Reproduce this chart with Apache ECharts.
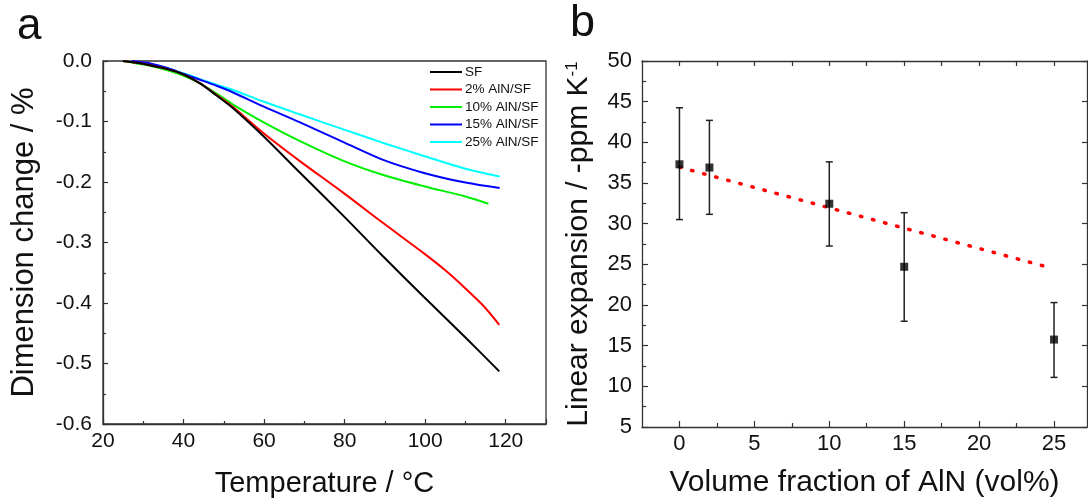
<!DOCTYPE html>
<html><head><meta charset="utf-8">
<script src="https://cdn.jsdelivr.net/npm/echarts@6/dist/echarts.min.js"></script>
<style>html,body{margin:0;padding:0;background:#fff}#c{width:1088px;height:504px}</style>
</head><body><div id="c"></div>
<script>
// ---- Panel a: dimension change vs temperature ----
const seriesNames = ['SF', '2% AlN/SF', '10% AlN/SF', '15% AlN/SF', '25% AlN/SF'];
const seriesColors = ['#000000', '#ff0000', '#00ee00', '#0000ff', '#00ffff'];
const tSF = [24.9, 28.4, 31.7, 35.8, 39.9, 44.1, 48.2, 52.3, 59.8, 68.8, 79.7, 89.4, 99.7, 110.0, 118.4];
const vSF = [0, -0.003, -0.007, -0.013, -0.022, -0.037, -0.057, -0.078, -0.124, -0.184, -0.256, -0.322, -0.390, -0.457, -0.513];
const t2  = [24.9, 28.4, 31.7, 35.8, 39.9, 44.1, 48.2, 52.3, 59.8, 68.8, 79.7, 89.4, 99.7, 105.0, 110.0, 114.5, 118.4];
const v2  = [0, -0.003, -0.007, -0.013, -0.022, -0.037, -0.056, -0.076, -0.119, -0.165, -0.218, -0.267, -0.318, -0.346, -0.376, -0.405, -0.436];
const t10 = [24.9, 28.4, 31.7, 35.8, 39.9, 44.1, 48.2, 52.3, 59.8, 68.8, 79.7, 89.4, 99.7, 110.0, 115.7];
const v10 = [0, -0.004, -0.008, -0.015, -0.024, -0.037, -0.054, -0.072, -0.101, -0.132, -0.165, -0.188, -0.207, -0.224, -0.236];
const t15 = [27.2, 28.4, 31.7, 35.8, 39.9, 44.1, 48.2, 52.3, 59.8, 68.8, 79.7, 89.4, 99.7, 110.0, 118.5];
const v15 = [0, -0.001, -0.004, -0.011, -0.021, -0.031, -0.041, -0.052, -0.075, -0.101, -0.134, -0.163, -0.185, -0.201, -0.210];
const t25 = [24.9, 28.4, 31.7, 35.8, 39.9, 44.1, 48.2, 52.3, 59.8, 68.8, 79.7, 89.4, 99.7, 110.0, 118.5];
const v25 = [0, -0.002, -0.006, -0.012, -0.020, -0.030, -0.039, -0.048, -0.067, -0.088, -0.113, -0.135, -0.157, -0.178, -0.191];

// ---- Panel b: linear expansion vs AlN volume fraction ----
const volFrac  = [0, 2, 10, 15, 25];
const cte      = [37.3, 36.9, 32.45, 24.7, 15.75];
const cteLow   = [30.5, 31.15, 27.25, 18.0, 11.1];
const cteHigh  = [44.25, 42.7, 37.6, 31.35, 20.3];
const fitX     = [0, 24.6];
const fitY     = [36.95, 24.65];
const bMajorTicks = [0, 5, 10, 15, 20, 25];
const bMinorTicks = [2.5, 7.5, 12.5, 17.5, 22.5];
const bTopTicks   = [0, 2.5, 5, 7.5, 10, 12.5, 15, 17.5, 20, 22.5, 25];

const FONT = 'Liberation Sans, Arial, sans-serif';
const AX = '#333';
const zip = (a, b) => a.map((v, i) => [v, b[i]]);
const curveT = [tSF, t2, t10, t15, t25];
const curveV = [vSF, v2, v10, v15, v25];

const chart = echarts.init(document.getElementById('c'), null, {renderer: 'canvas'});

const lineSeries = seriesNames.map((n, i) => ({
  name: n, type: 'line', xAxisIndex: 0, yAxisIndex: 0,
  data: zip(curveT[i], curveV[i]), showSymbol: false, smooth: 0.3,
  lineStyle: {color: seriesColors[i], width: 2}, itemStyle: {color: seriesColors[i]},
  z: 5 - i
}));

const option = {
  animation: false,
  backgroundColor: '#fff',
  textStyle: {fontFamily: FONT},
  grid: [
    {left: 103, top: 61, width: 443, height: 363, show: true, borderColor: AX, borderWidth: 1.3, backgroundColor: 'transparent'},
    {left: 642, top: 61, width: 445, height: 366}
  ],
  legend: {
    data: seriesNames, orient: 'vertical', left: 430, top: 65, padding: 0,
    icon: 'rect', itemWidth: 32, itemHeight: 2, itemGap: 3.5,
    textStyle: {fontSize: 13.5, color: '#111', fontFamily: FONT, padding: [0, 0, 0, -2]}
  },
  xAxis: [
    {
      gridIndex: 0, type: 'value', min: 20, max: 130, interval: 20,
      axisLine: {onZero: false, lineStyle: {color: AX, width: 1.3}},
      axisTick: {inside: true, length: 5, lineStyle: {color: AX, width: 1.2}},
      minorTick: {show: true, splitNumber: 2, length: 3, lineStyle: {color: AX, width: 1.2}},
      splitLine: {show: false}, minorSplitLine: {show: false},
      axisLabel: {fontSize: 21, color: '#111', margin: 7, fontFamily: FONT, formatter: v => (v === 130 ? '' : String(v))},
      name: 'Temperature / °C', nameLocation: 'middle', nameGap: 45,
      nameTextStyle: {fontSize: 29, color: '#111', fontFamily: FONT}
    },
    {
      gridIndex: 1, type: 'value', min: -2.5, max: 27.2,
      axisLine: {onZero: false, lineStyle: {color: AX, width: 1.3}},
      axisTick: {inside: true, length: 6, customValues: bMajorTicks, lineStyle: {color: AX, width: 1.2}},
      splitLine: {show: false},
      axisLabel: {fontSize: 22, color: '#111', margin: 6, fontFamily: FONT, customValues: bMajorTicks},
      name: 'Volume fraction of AlN (vol%)', nameLocation: 'middle', nameGap: 41,
      nameTextStyle: {fontSize: 30, color: '#111', fontFamily: FONT}
    },
    {
      gridIndex: 1, type: 'value', min: -2.5, max: 27.2, position: 'bottom',
      axisLine: {show: false, onZero: false},
      axisTick: {inside: true, length: 4, customValues: bMinorTicks, lineStyle: {color: AX, width: 1.2}},
      axisLabel: {show: false}, splitLine: {show: false}
    },
    {
      gridIndex: 1, type: 'value', min: -2.5, max: 27.2, position: 'top',
      axisLine: {onZero: false, lineStyle: {color: AX, width: 1.3}},
      axisTick: {inside: true, length: 5, customValues: bTopTicks, lineStyle: {color: AX, width: 1.2}},
      axisLabel: {show: false}, splitLine: {show: false}
    }
  ],
  yAxis: [
    {
      gridIndex: 0, type: 'value', min: -0.6, max: 0, interval: 0.1,
      axisLine: {show: true, onZero: false, lineStyle: {color: AX, width: 1.3}},
      axisTick: {show: true, inside: true, length: 5, lineStyle: {color: AX, width: 1.2}},
      minorTick: {show: true, splitNumber: 2, length: 3, lineStyle: {color: AX, width: 1.2}},
      splitLine: {show: false}, minorSplitLine: {show: false},
      axisLabel: {fontSize: 21, color: '#111', margin: 11, fontFamily: FONT, formatter: v => v.toFixed(1)},
      name: 'Dimension change / %', nameLocation: 'middle', nameGap: 63,
      nameTextStyle: {fontSize: 31, color: '#111', fontFamily: FONT}
    },
    {
      gridIndex: 1, type: 'value', min: 5, max: 50, interval: 5, position: 'left',
      axisLine: {show: true, onZero: false, lineStyle: {color: AX, width: 1.3}},
      axisTick: {show: true, inside: true, length: 6, lineStyle: {color: AX, width: 1.2}},
      minorTick: {show: true, splitNumber: 2, length: 4, lineStyle: {color: AX, width: 1.2}},
      splitLine: {show: false}, minorSplitLine: {show: false},
      axisLabel: {fontSize: 22, color: '#111', margin: 10, fontFamily: FONT},
      name: 'Linear expansion / -ppm K{sup|-1}', nameLocation: 'middle', nameGap: 48,
      nameTextStyle: {fontSize: 30, color: '#111', fontFamily: FONT,
        rich: {sup: {fontSize: 17, color: '#111', fontFamily: FONT, verticalAlign: 'top', padding: [0, 0, 12, 0]}}}
    },
    {
      gridIndex: 1, type: 'value', min: 5, max: 50, interval: 5, position: 'right',
      axisLine: {show: true, onZero: false, lineStyle: {color: AX, width: 1.3}},
      axisTick: {show: true, inside: true, length: 5, lineStyle: {color: AX, width: 1.2}},
      axisLabel: {show: false}, splitLine: {show: false}
    }
  ],
  graphic: [
    {type: 'text', left: 17, top: 5, style: {text: 'a', fontSize: 44, fontFamily: FONT, fill: '#111'}},
    {type: 'text', left: 570, top: 1, style: {text: 'b', fontSize: 45, fontFamily: FONT, fill: '#111'}}
  ],
  series: [
    ...lineSeries,
    {
      name: 'fit', type: 'line', xAxisIndex: 1, yAxisIndex: 1, data: zip(fitX, fitY),
      showSymbol: false, lineStyle: {color: '#ff0000', width: 3.5, type: [1.5, 11], cap: 'round'}, z: 2
    },
    {
      name: 'err', type: 'custom', xAxisIndex: 1, yAxisIndex: 1,
      data: volFrac.map((x, i) => [x, cteLow[i], cteHigh[i]]),
      encode: {x: 0, y: [1, 2]},
      renderItem: (params, api) => {
        const x = api.value(0), lo = api.value(1), hi = api.value(2);
        const p1 = api.coord([x, hi]), p2 = api.coord([x, lo]);
        const w = 3.5;
        const st = {stroke: '#222', lineWidth: 1.5};
        return {type: 'group', children: [
          {type: 'line', shape: {x1: p1[0], y1: p1[1], x2: p2[0], y2: p2[1]}, style: st},
          {type: 'line', shape: {x1: p1[0] - w, y1: p1[1], x2: p1[0] + w, y2: p1[1]}, style: st},
          {type: 'line', shape: {x1: p2[0] - w, y1: p2[1], x2: p2[0] + w, y2: p2[1]}, style: st}
        ]};
      },
      z: 3
    },
    {
      name: 'data', type: 'scatter', xAxisIndex: 1, yAxisIndex: 1, data: zip(volFrac, cte),
      symbol: 'rect', symbolSize: 8, itemStyle: {color: '#000'}, z: 4
    }
  ]
};
chart.setOption(option);
</script>
</body></html>
